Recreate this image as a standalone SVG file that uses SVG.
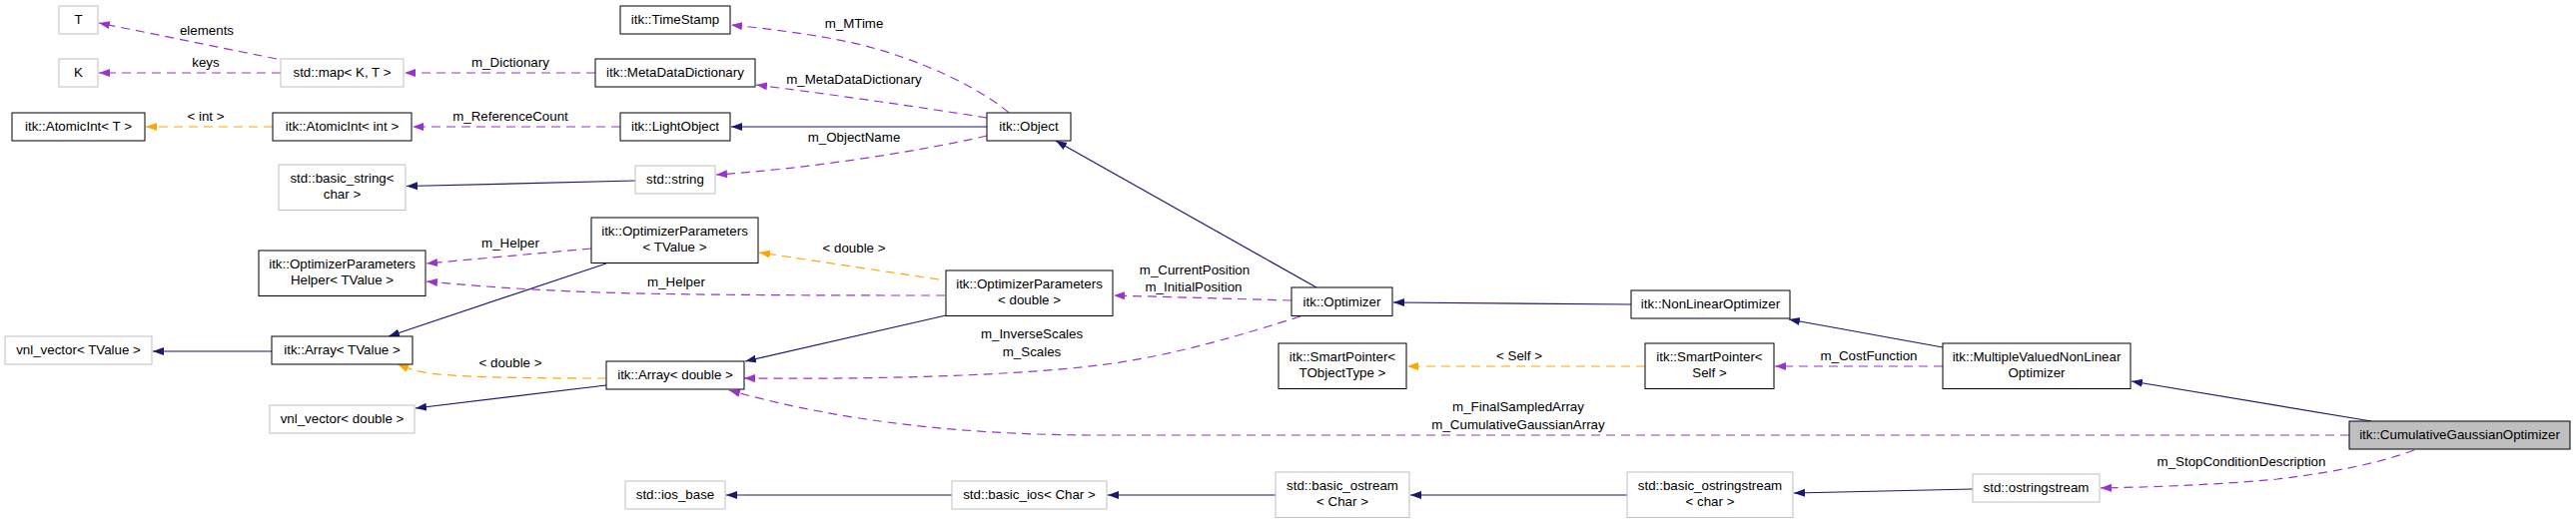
<svg xmlns="http://www.w3.org/2000/svg" width="2579" height="524" viewBox="0 0 2579 524">
<style>
text{font-family:"Liberation Sans",Arial,Helvetica,sans-serif;font-size:13.33px;text-anchor:middle;fill:#000}
.n rect{fill:#fff;stroke:#000;stroke-width:1}
.u rect{fill:#fff;stroke:#bfbfbf;stroke-width:1}
.cur rect{fill:#bfbfbf;stroke:#000;stroke-width:1}
.e{fill:none;stroke-width:1.2}
.nav{stroke:#191970;marker-end:url(#an)}
.pur{stroke:#9a32cd;stroke-dasharray:9,6;marker-end:url(#ap)}
.org{stroke:#ffa500;stroke-dasharray:9,6;marker-end:url(#ao)}
</style>
<defs>
<marker id="an" markerUnits="userSpaceOnUse" markerWidth="12" markerHeight="9" refX="11" refY="4" orient="auto"><path d="M0,0 L11,4 L0,8 z" fill="#191970"/></marker>
<marker id="ap" markerUnits="userSpaceOnUse" markerWidth="12" markerHeight="9" refX="11" refY="4" orient="auto"><path d="M0,0 L11,4 L0,8 z" fill="#9a32cd"/></marker>
<marker id="ao" markerUnits="userSpaceOnUse" markerWidth="12" markerHeight="9" refX="11" refY="4" orient="auto"><path d="M0,0 L11,4 L0,8 z" fill="#ffa500"/></marker>
</defs>
<rect width="2579" height="524" fill="#fff"/>
<g id="edges">
<path class="e pur" d="M277,59 L99,23"/>
<text x="207" y="35">elements</text>
<path class="e pur" d="M281,73 L99,73"/>
<text x="206" y="67">keys</text>
<path class="e pur" d="M596,73 L405,73"/>
<text x="511" y="67">m_Dictionary</text>
<path class="e org" d="M273,127 L146,127"/>
<text x="206" y="121">&lt; int &gt;</text>
<path class="e pur" d="M621,127 L413,127"/>
<text x="511" y="121">m_ReferenceCount</text>
<path class="e nav" d="M636,181 L407,186.5"/>
<path class="e pur" d="M1010,113 C990,95 930,60 850,42 C800,32 760,28 732,25"/>
<text x="855" y="28">m_MTime</text>
<path class="e pur" d="M988,118 C920,107 820,93 757,85"/>
<text x="855" y="84">m_MetaDataDictionary</text>
<path class="e nav" d="M988,127 L732,127"/>
<path class="e pur" d="M988,136 C920,152 800,170 717,175"/>
<text x="855" y="142">m_ObjectName</text>
<path class="e nav" d="M1318,288 L1057,141"/>
<path class="e pur" d="M592,249 L427,264"/>
<text x="511" y="248">m_Helper</text>
<path class="e nav" d="M607,264 L389,337"/>
<path class="e org" d="M940,280 L760,253"/>
<text x="855" y="253">&lt; double &gt;</text>
<path class="e pur" d="M946,296 C850,296 700,296 600,293 C520,290 470,286 427,282"/>
<text x="677" y="287">m_Helper</text>
<path class="e nav" d="M947,316 L746,362"/>
<path class="e nav" d="M272,352 L153,352"/>
<path class="e org" d="M607,379 C560,379 470,379 430,374 C418,372 408,369 398,365"/>
<text x="511" y="368">&lt; double &gt;</text>
<path class="e nav" d="M607,386 L416,409"/>
<path class="e pur" d="M1293,301 L1115,296"/>
<text x="1196" y="275">m_CurrentPosition</text>
<text x="1195" y="292">m_InitialPosition</text>
<path class="e pur" d="M1302,317 C1250,333 1180,356 1100,366 C1000,378 850,380 745,379"/>
<text x="1033" y="339">m_InverseScales</text>
<text x="1033" y="357">m_Scales</text>
<path class="e nav" d="M1633,305 L1395,303"/>
<path class="e nav" d="M1945,348 L1791,320"/>
<path class="e org" d="M1647,367 L1409,367"/>
<text x="1521" y="361">&lt; Self &gt;</text>
<path class="e pur" d="M1945,367 L1777,367"/>
<text x="1871" y="361">m_CostFunction</text>
<path class="e nav" d="M2374,422 L2134,382"/>
<path class="e pur" d="M2352,436 L1100,436 C980,436 850,425 730,391"/>
<text x="1520" y="412">m_FinalSampledArray</text>
<text x="1520" y="430">m_CumulativeGaussianArray</text>
<path class="e pur" d="M2417,451 C2380,465 2330,474 2280,480 C2220,486 2150,488 2103,489"/>
<text x="2244" y="467">m_StopConditionDescription</text>
<path class="e nav" d="M1975,490 L1796,494"/>
<path class="e nav" d="M1629,496 L1412,496"/>
<path class="e nav" d="M1277,496 L1109,496"/>
<path class="e nav" d="M953,496 L727,496"/>
</g>
<g id="n_T" class="u"><rect x="59" y="6" width="39" height="28"/><text x="78.5" y="24">T</text></g>
<g id="n_K" class="u"><rect x="59" y="59" width="39" height="28"/><text x="78.5" y="77">K</text></g>
<g id="n_map" class="u"><rect x="281" y="59" width="123" height="28"/><text x="342.5" y="77">std::map&lt; K, T &gt;</text></g>
<g id="n_atomicT" class="n"><rect x="12" y="113" width="133" height="28"/><text x="78.5" y="131">itk::AtomicInt&lt; T &gt;</text></g>
<g id="n_atomicInt" class="n"><rect x="273" y="113" width="139" height="28"/><text x="342.5" y="131">itk::AtomicInt&lt; int &gt;</text></g>
<g id="n_basicString" class="u"><rect x="279" y="165" width="127" height="45.5"/><text x="342.5" y="182.5">std::basic_string&lt;</text><text x="342.5" y="199">char &gt;</text></g>
<g id="n_helper" class="n"><rect x="259" y="251" width="167" height="45.5"/><text x="342.5" y="268.5">itk::OptimizerParameters</text><text x="342.5" y="285">Helper&lt; TValue &gt;</text></g>
<g id="n_vnlT" class="u"><rect x="5" y="337" width="147" height="28"/><text x="78.5" y="355">vnl_vector&lt; TValue &gt;</text></g>
<g id="n_arrayT" class="n"><rect x="272" y="337" width="141" height="28"/><text x="342.5" y="355">itk::Array&lt; TValue &gt;</text></g>
<g id="n_vnlD" class="u"><rect x="270" y="406" width="145" height="28"/><text x="342.5" y="424">vnl_vector&lt; double &gt;</text></g>
<g id="n_timestamp" class="n"><rect x="621" y="6" width="110" height="28"/><text x="676" y="24">itk::TimeStamp</text></g>
<g id="n_mdd" class="n"><rect x="596" y="59" width="160" height="28"/><text x="676" y="77">itk::MetaDataDictionary</text></g>
<g id="n_light" class="n"><rect x="621" y="113" width="110" height="28"/><text x="676" y="131">itk::LightObject</text></g>
<g id="n_string" class="u"><rect x="636" y="166" width="80" height="28"/><text x="676" y="184">std::string</text></g>
<g id="n_optParT" class="n"><rect x="592" y="218" width="167" height="45.5"/><text x="675.5" y="235.5">itk::OptimizerParameters</text><text x="675.5" y="252">&lt; TValue &gt;</text></g>
<g id="n_arrayD" class="n"><rect x="607" y="362" width="138" height="28"/><text x="676" y="380">itk::Array&lt; double &gt;</text></g>
<g id="n_iosbase" class="u"><rect x="626" y="482" width="100" height="28"/><text x="676" y="500">std::ios_base</text></g>
<g id="n_object" class="n"><rect x="988" y="113" width="84" height="28"/><text x="1030" y="131">itk::Object</text></g>
<g id="n_optParD" class="n"><rect x="947" y="271" width="167" height="45.5"/><text x="1030.5" y="288.5">itk::OptimizerParameters</text><text x="1030.5" y="305">&lt; double &gt;</text></g>
<g id="n_basicIos" class="u"><rect x="953" y="482" width="155" height="28"/><text x="1030.5" y="500">std::basic_ios&lt; Char &gt;</text></g>
<g id="n_optimizer" class="n"><rect x="1293" y="288" width="101" height="28.5"/><text x="1343.5" y="306.5">itk::Optimizer</text></g>
<g id="n_spT" class="n"><rect x="1280" y="344" width="128" height="45.5"/><text x="1344" y="361.5">itk::SmartPointer&lt;</text><text x="1344" y="378">TObjectType &gt;</text></g>
<g id="n_ostream" class="u"><rect x="1277" y="473" width="134" height="45.5"/><text x="1344" y="490.5">std::basic_ostream</text><text x="1344" y="507">&lt; Char &gt;</text></g>
<g id="n_nonlinear" class="n"><rect x="1633" y="291" width="159" height="28"/><text x="1712.5" y="309">itk::NonLinearOptimizer</text></g>
<g id="n_spSelf" class="n"><rect x="1647" y="344" width="129" height="45.5"/><text x="1711.5" y="361.5">itk::SmartPointer&lt;</text><text x="1711.5" y="378">Self &gt;</text></g>
<g id="n_ostrstream" class="u"><rect x="1629" y="473" width="166" height="45.5"/><text x="1712" y="490.5">std::basic_ostringstream</text><text x="1712" y="507">&lt; char &gt;</text></g>
<g id="n_mv" class="n"><rect x="1945" y="344" width="188" height="45.5"/><text x="2039" y="361.5">itk::MultipleValuedNonLinear</text><text x="2039" y="378">Optimizer</text></g>
<g id="n_ostringstream" class="u"><rect x="1975" y="475" width="127" height="28"/><text x="2038.5" y="493">std::ostringstream</text></g>
<g id="n_cgo" class="cur"><rect x="2352" y="422" width="221" height="28"/><text x="2462.5" y="440">itk::CumulativeGaussianOptimizer</text></g>
</svg>
